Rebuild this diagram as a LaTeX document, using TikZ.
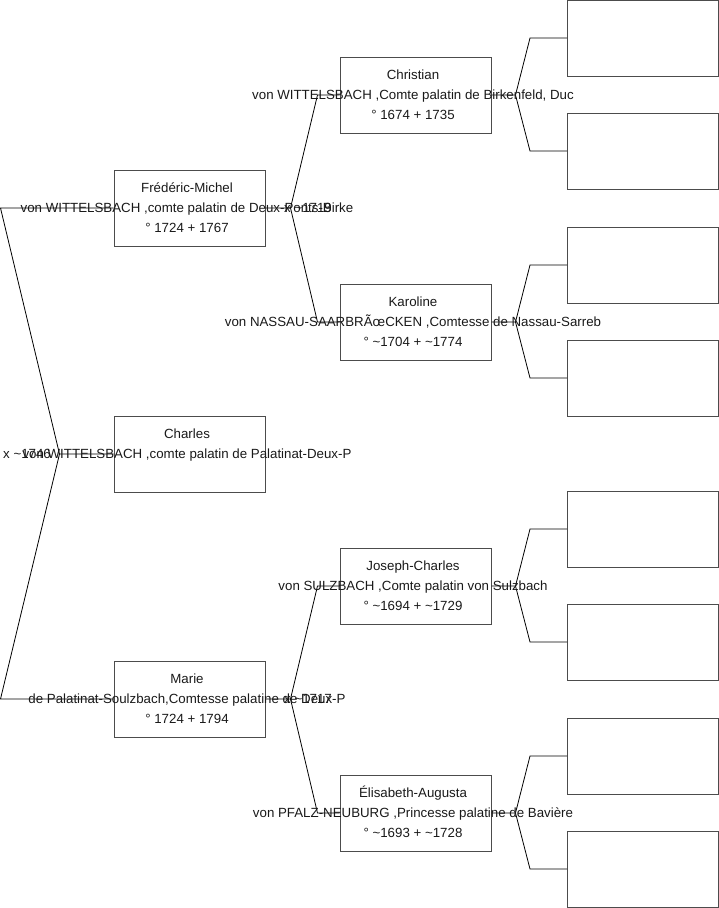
\documentclass[tikz,border=0pt]{standalone}
\usepackage{fontspec}
\setmainfont{Liberation Sans}
\newcommand\ptext[4]{%
  \node[txt] (#1a) at ([xshift=-2.5pt,yshift=16pt]#1.center) {#2};
  \node[txt] (#1b) at ([xshift=-2.5pt,yshift=-4pt]#1.center) {#3};
  \node[txt] (#1c) at ([xshift=-2.5pt,yshift=-24pt]#1.center) {#4};}
\begin{document}
\begin{tikzpicture}[x=1pt,y=-1pt,
  person/.style={draw=black!70,line width=1pt,minimum width=151pt,minimum height=76pt,inner sep=0pt},
  txt/.style={inner sep=0pt,anchor=base,font=\fontsize{13.3}{16}\selectfont,text=black!90},
  mlabel/.style={txt,anchor=base west},
  link/.style={draw=black,line width=0.8pt}]
\useasboundingbox (0,0) rectangle (719,908);
% generation 1
\node[person] (fm) at (189.5,208) {};
\node[person] (ch) at (189.5,454) {};
\node[person] (ma) at (189.5,699) {};
% generation 2
\node[person] (chr) at (415.5,95) {};
\node[person] (kar) at (415.5,322) {};
\node[person] (jc) at (415.5,586) {};
\node[person] (ea) at (415.5,813) {};
% generation 3
\foreach \n/\y in {g1/38,g2/151,g3/265,g4/378,g5/529,g6/642,g7/756,g8/869}
  \node[person] (\n) at (643,\y) {};
% forks
\draw[link] (ch.west) -- ++(-54,0) coordinate (f0) -- ([xshift=-113pt]fm.west) -- (fm.west);
\draw[link] (f0) -- ([xshift=-113pt]ma.west) -- (ma.west);
\draw[link] (fm.east) -- ++(25,0) coordinate (f1) -- ([xshift=-22pt]chr.west) -- (chr.west);
\draw[link] (f1) -- ([xshift=-22pt]kar.west) -- (kar.west);
\draw[link] (ma.east) -- ++(25,0) coordinate (f2) -- ([xshift=-22pt]jc.west) -- (jc.west);
\draw[link] (f2) -- ([xshift=-22pt]ea.west) -- (ea.west);
\draw[link] (chr.east) -- ++(24,0) coordinate (f3) -- ([xshift=-37pt]g1.west) -- (g1.west);
\draw[link] (f3) -- ([xshift=-37pt]g2.west) -- (g2.west);
\draw[link] (kar.east) -- ++(24,0) coordinate (f4) -- ([xshift=-37pt]g3.west) -- (g3.west);
\draw[link] (f4) -- ([xshift=-37pt]g4.west) -- (g4.west);
\draw[link] (jc.east) -- ++(24,0) coordinate (f5) -- ([xshift=-37pt]g5.west) -- (g5.west);
\draw[link] (f5) -- ([xshift=-37pt]g6.west) -- (g6.west);
\draw[link] (ea.east) -- ++(24,0) coordinate (f6) -- ([xshift=-37pt]g7.west) -- (g7.west);
\draw[link] (f6) -- ([xshift=-37pt]g8.west) -- (g8.west);
% texts
\ptext{fm}{Frédéric-Michel}{von WITTELSBACH ,comte palatin de Deux-Ponts-Birke}{° 1724 + 1767}
\ptext{ch}{Charles}{von WITTELSBACH ,comte palatin de Palatinat-Deux-P}{}
\ptext{ma}{Marie}{de Palatinat-Soulzbach,Comtesse palatine de Deux-P}{° 1724 + 1794}
\ptext{chr}{Christian}{von WITTELSBACH ,Comte palatin de Birkenfeld, Duc}{° 1674 + 1735}
\ptext{kar}{Karoline}{von NASSAU-SAARBRÃœCKEN ,Comtesse de Nassau-Sarreb}{° \textasciitilde1704 + \textasciitilde1774}
\ptext{jc}{Joseph-Charles}{von SULZBACH ,Comte palatin von Sulzbach}{° \textasciitilde1694 + \textasciitilde1729}
\ptext{ea}{Élisabeth-Augusta}{von PFALZ-NEUBURG ,Princesse palatine de Bavière}{° \textasciitilde1693 + \textasciitilde1728}
% marriage labels
\node[mlabel] (m0) at (3,458) {x \textasciitilde1746};
\node[mlabel] (m1) at (284,212) {x \textasciitilde1719};
\node[mlabel] (m2) at (284,703) {x \textasciitilde1717};
\end{tikzpicture}
\end{document}
